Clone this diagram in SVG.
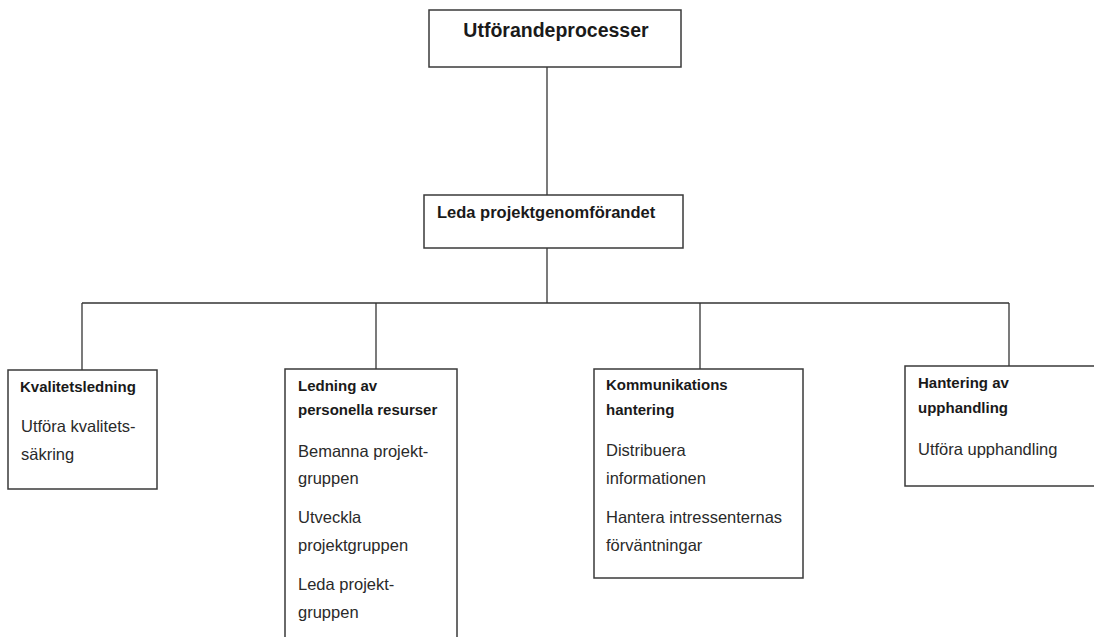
<svg xmlns="http://www.w3.org/2000/svg" width="1094" height="637" viewBox="0 0 1094 637">
<style>
.box{fill:#fff;stroke:#3a3a3a;stroke-width:1.5}
.con{stroke:#333;stroke-width:1.3;fill:none}
text{font-family:"Liberation Sans",Arial,sans-serif;fill:#1a1a1a}
.t0{font-size:19.5px;font-weight:bold}
.t1{font-size:16.5px;font-weight:bold}
.h{font-size:15px;font-weight:bold}
.b{font-size:16.5px;fill:#2a2a2a}
</style>
<rect width="1094" height="637" fill="#fff"/>
<g id="connectors">
<line class="con" x1="547" y1="67" x2="547" y2="195"/>
<line class="con" x1="547" y1="248" x2="547" y2="303"/>
<line class="con" x1="82" y1="303" x2="1009" y2="303"/>
<line class="con" x1="82" y1="303" x2="82" y2="370"/>
<line class="con" x1="376" y1="303" x2="376" y2="369"/>
<line class="con" x1="700" y1="303" x2="700" y2="369"/>
<line class="con" x1="1009" y1="303" x2="1009" y2="366"/>
</g>
<g id="root">
<rect class="box" x="429" y="10" width="252" height="57"/>
<text class="t0" x="556" y="37" text-anchor="middle">Utförandeprocesser</text>
</g>
<g id="leda">
<rect class="box" x="424" y="195" width="259" height="53"/>
<text class="t1" x="437" y="218">Leda projektgenomförandet</text>
</g>
<g id="kvalitet">
<rect class="box" x="8" y="370" width="149" height="119"/>
<text class="h" x="20" y="392">Kvalitetsledning</text>
<text class="b" x="21" y="432">Utföra kvalitets-</text>
<text class="b" x="21" y="460">säkring</text>
</g>
<g id="personal">
<rect class="box" x="285" y="369" width="172" height="275"/>
<text class="h" x="298" y="391">Ledning av</text>
<text class="h" x="298" y="415">personella resurser</text>
<text class="b" x="298" y="457">Bemanna projekt-</text>
<text class="b" x="298" y="484">gruppen</text>
<text class="b" x="298" y="523">Utveckla</text>
<text class="b" x="298" y="551">projektgruppen</text>
<text class="b" x="298" y="590">Leda projekt-</text>
<text class="b" x="298" y="618">gruppen</text>
</g>
<g id="kommunikation">
<rect class="box" x="594" y="369" width="209" height="209"/>
<text class="h" x="606" y="390">Kommunikations</text>
<text class="h" x="606" y="415">hantering</text>
<text class="b" x="606" y="456">Distribuera</text>
<text class="b" x="606" y="484">informationen</text>
<text class="b" x="606" y="523">Hantera intressenternas</text>
<text class="b" x="606" y="551">förväntningar</text>
</g>
<g id="upphandling">
<rect class="box" x="905" y="366" width="195" height="120"/>
<text class="h" x="918" y="388">Hantering av</text>
<text class="h" x="918" y="413">upphandling</text>
<text class="b" x="918" y="455">Utföra upphandling</text>
</g>
</svg>
